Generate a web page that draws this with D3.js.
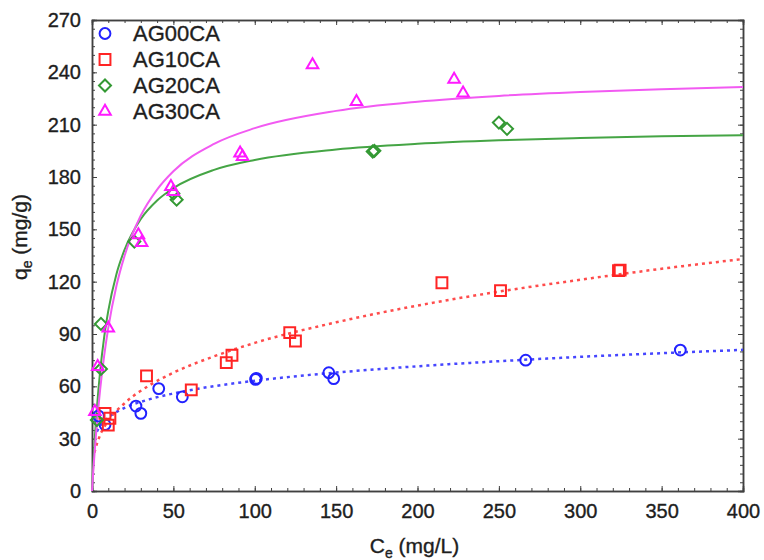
<!DOCTYPE html>
<html>
<head>
<meta charset="utf-8">
<script src="https://cdn.jsdelivr.net/npm/d3@7"></script>
<style>
  body { margin: 0; background: #fff; }
  svg text { font-family: Arial, "Liberation Sans", sans-serif; fill: #1e1e1e; stroke: #1e1e1e; stroke-width: 0.35px; }
</style>
</head>
<body>
<div id="chart"></div>
<script>
// measured points, [Ce, qe]
const ag00 = [[4,43],[8,38],[27,48.7],[30,44.5],[41,58.7],[55.5,54],[100.5,64],[101,64.6],[145.5,67.8],[148.5,64.4],[266.5,75],[361.5,80.8]];
const ag10 = [[8,44.5],[10,37.8],[11,41.7],[33.5,66],[61,58],[82.5,73.6],[86,77.8],[121.5,90.8],[125,86],[215,119.4],[251,114.9],[323.5,126.3],[324.5,126.6]];
const ag20 = [[3,40.7],[5.5,70],[5.5,95.8],[26,143],[50,170.5],[52,167],[172.5,194.6],[173.5,195],[250,211.2],[255,207.6]];
const ag30 = [[1.8,45.5],[3.5,71.3],[10,93.3],[28.5,146.8],[30.5,142.4],[48.5,174.5],[50,171.6],[91,193.6],[92.5,191.7],[135.5,244.3],[162.5,223.2],[222.5,236],[228,228]];

// fitted curves
const fit00 = [[3,34],[5,37.3],[10,42.1],[20,47.6],[35,52.5],[50,55.9],[75,60.1],[100,63.2],[150,67.9],[200,71.5],[250,74.4],[300,76.9],[350,79],[400,80.9]];
const fit10 = [[1.5,22],[2,23.8],[5,32.1],[10,40.2],[20,50.3],[35,60.4],[50,67.8],[75,77.2],[100,84.9],[150,96.7],[200,106.3],[250,114.3],[300,121.1],[350,127.4],[400,133]];
const fit20 = [[0,0],[0.5,9.7],[1,18.6],[2,34.2],[3,47.4],[5,68.6],[7.5,88.4],[10,103.3],[15,124.3],[20,138.3],[30,155.9],[40,166.5],[50,173.6],[75,184.1],[100,189.8],[150,195.8],[200,199],[250,201],[300,202.3],[350,203.3],[400,204]];
const fit30 = [[0,0],[0.5,7.4],[1,14.4],[2,27],[3,38.6],[5,58.1],[7.5,77.7],[10,93.5],[15,117.5],[20,134.8],[30,157.9],[40,172.8],[50,183.3],[75,199],[100,208],[150,217.9],[200,223.2],[250,226.5],[300,228.7],[350,230.3],[400,231.6]];

const seriesNames = ["AG00CA", "AG10CA", "AG20CA", "AG30CA"];
const xTicks = [0, 50, 100, 150, 200, 250, 300, 350, 400];
const yTicks = [0, 30, 60, 90, 120, 150, 180, 210, 240, 270];

const W = 764, H = 560;
const margin = {top: 20, right: 21, bottom: 69, left: 92};
const width = W - margin.left - margin.right;
const height = H - margin.top - margin.bottom;

const svg = d3.select("#chart").append("svg")
    .attr("width", W)
    .attr("height", H);

const x = d3.scaleLinear().domain([0, 400]).range([0, width]);
const y = d3.scaleLinear().domain([0, 270]).range([height, 0]);

const g = svg.append("g")
    .attr("transform", "translate(" + margin.left + "," + margin.top + ")");

const axisColor = "#404040";

// minor ticks, all four sides, pointing inward
const xMinor = d3.range(0, 401, 10), yMinor = d3.range(0, 271, 5);
g.append("g").attr("transform", "translate(0," + height + ")")
    .call(d3.axisBottom(x).tickValues(xMinor).tickSize(-3).tickFormat(""));
g.append("g")
    .call(d3.axisTop(x).tickValues(xMinor).tickSize(-3).tickFormat(""));
g.append("g")
    .call(d3.axisLeft(y).tickValues(yMinor).tickSize(-3).tickFormat(""));
g.append("g").attr("transform", "translate(" + width + ",0)")
    .call(d3.axisRight(y).tickValues(yMinor).tickSize(-3).tickFormat(""));

// major ticks with labels
g.append("g").attr("class", "xaxis")
    .attr("transform", "translate(0," + height + ")")
    .call(d3.axisBottom(x).tickValues(xTicks).tickSize(-5).tickPadding(13));
g.append("g").attr("class", "yaxis")
    .call(d3.axisLeft(y).tickValues(yTicks).tickSize(-5).tickPadding(11));
g.append("g")
    .call(d3.axisTop(x).tickValues(xTicks).tickSize(-5).tickFormat(""));
g.append("g").attr("transform", "translate(" + width + ",0)")
    .call(d3.axisRight(y).tickValues(yTicks).tickSize(-5).tickFormat(""));

g.selectAll(".domain").attr("stroke", axisColor).attr("stroke-width", 1.5);
g.selectAll(".tick line").attr("stroke", axisColor).attr("stroke-width", 1);
g.selectAll(".tick text")
    .style("font-size", "20px")
    .attr("fill", "#1e1e1e");

// axis titles
const xt = svg.append("text")
    .attr("x", margin.left + width / 2 - 3)
    .attr("y", 553)
    .attr("text-anchor", "middle")
    .style("font-size", "21px");
xt.append("tspan").text("C");
xt.append("tspan").attr("dy", 5).style("font-size", "14px").text("e");
xt.append("tspan").attr("dy", -5).text(" (mg/L)");

const yt = svg.append("text")
    .attr("transform", "translate(27," + 237 + ") rotate(-90)")
    .attr("text-anchor", "middle")
    .style("font-size", "21px");
yt.append("tspan").text("q");
yt.append("tspan").attr("dy", 5).style("font-size", "14px").text("e");
yt.append("tspan").attr("dy", -5).text(" (mg/g)");

// fit lines
const line = d3.line()
    .x(function(d) { return x(d[0]); })
    .y(function(d) { return y(d[1]); })
    .curve(d3.curveMonotoneX);

const fits = [
  {data: fit00, color: "#4646ff", dash: "3,4"},
  {data: fit10, color: "#ff4c4c", dash: "3,4"},
  {data: fit20, color: "#45a545", dash: null},
  {data: fit30, color: "#f25af2", dash: null}
];
fits.forEach(function(f) {
  g.append("path")
      .datum(f.data)
      .attr("fill", "none")
      .attr("stroke", f.color)
      .attr("stroke-width", f.dash ? 2.5 : 2)
      .attr("stroke-dasharray", f.dash)
      .attr("d", line);
});

// markers
const series = [
  {name: seriesNames[0], data: ag00, color: "#2222ff", sym: d3.symbolCircle, size: 92, rot: 0},
  {name: seriesNames[1], data: ag10, color: "#ff2424", sym: d3.symbolSquare, size: 118, rot: 0},
  {name: seriesNames[2], data: ag20, color: "#339933", sym: d3.symbolSquare, size: 72, rot: 45},
  {name: seriesNames[3], data: ag30, color: "#ff1aff", sym: d3.symbolTriangle, size: 58, rot: 0}
];

series.forEach(function(s) {
  g.selectAll(null)
      .data(s.data)
      .enter()
      .append("path")
      .attr("d", d3.symbol().type(s.sym).size(s.size))
      .attr("transform", function(d) {
        return "translate(" + x(d[0]) + "," + y(d[1]) + ") rotate(" + s.rot + ")";
      })
      .attr("fill", "none")
      .attr("stroke", s.color)
      .attr("stroke-width", 2);
});

// legend
const legend = svg.append("g");
series.forEach(function(s, i) {
  const ly = 33.5 + i * 26;
  legend.append("path")
      .attr("d", d3.symbol().type(s.sym).size(s.size))
      .attr("transform", "translate(105," + ly + ") rotate(" + s.rot + ")")
      .attr("fill", "none")
      .attr("stroke", s.color)
      .attr("stroke-width", 2);
  legend.append("text")
      .attr("x", 133)
      .attr("y", ly)
      .attr("dy", "0.36em")
      .style("font-size", "22px")
      .text(s.name);
});
</script>
</body>
</html>
